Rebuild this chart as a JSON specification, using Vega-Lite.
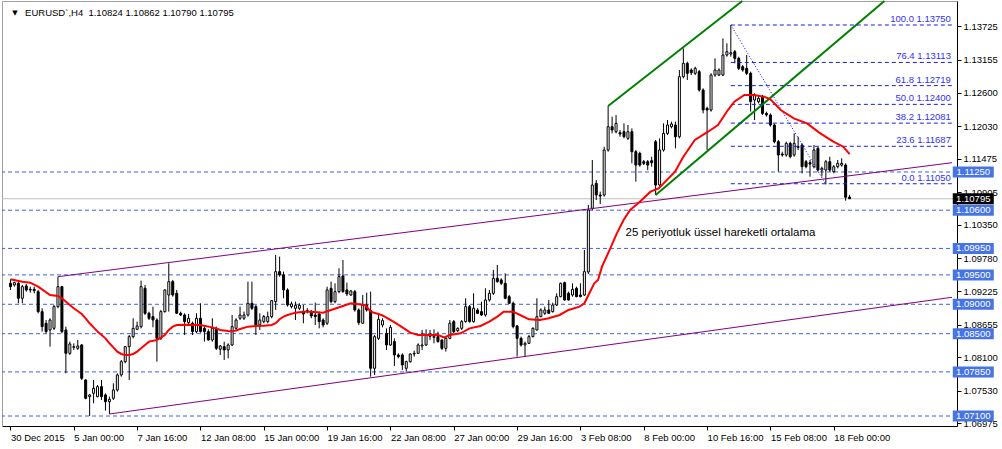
{
"$schema":"https://vega.github.io/schema/vega-lite/v6.json",
"width":955,"height":425,"autosize":"none",
"padding":{"left":2,"top":1,"right":45,"bottom":23},
"background":"white",
"view":{"stroke":null},
"config":{"font":"Liberation Sans"},
"datasets":{
"hl":[{"p":1.1125},{"p":1.106},{"p":1.0995},{"p":1.095},{"p":1.09},{"p":1.085},{"p":1.0785},{"p":1.071}],
"box":[{"p":1.1125,"t":"1.11250"},{"p":1.106,"t":"1.10600"},{"p":1.0995,"t":"1.09950"},{"p":1.095,"t":"1.09500"},{"p":1.09,"t":"1.09000"},{"p":1.085,"t":"1.08500"},{"p":1.0785,"t":"1.07850"},{"p":1.071,"t":"1.07100"}],
"fib":[{"p":1.1375,"t":"100.0 1.13750"},{"p":1.13113,"t":"76.4 1.13113"},{"p":1.12719,"t":"61.8 1.12719"},{"p":1.124,"t":"50.0 1.12400"},{"p":1.12081,"t":"38.2 1.12081"},{"p":1.11687,"t":"23.6 1.11687"},{"p":1.1105,"t":"0.0 1.11050"}],
"purple":[{"g":"a","i":12,"p":1.0947},{"g":"a","i":237.875,"p":1.11408},{"g":"b","i":25,"p":1.07134},{"g":"b","i":237.875,"p":1.09119}],
"green":[{"g":"a","i":151,"p":1.12372},{"g":"a","i":184.9,"p":1.14158},{"g":"b","i":163,"p":1.10858},{"g":"b","i":220.8,"p":1.14158}],
"dot":[{"i":182,"p":1.1375},{"i":206,"p":1.1104}],
"ema":[{"i":0,"p":1.09425},{"i":3,"p":1.09385},{"i":5,"p":1.09368},{"i":7,"p":1.093},{"i":10,"p":1.09158},{"i":12,"p":1.09141},{"i":13,"p":1.09102},{"i":15,"p":1.08988},{"i":16,"p":1.08932},{"i":18,"p":1.08835},{"i":19,"p":1.08762},{"i":20,"p":1.08677},{"i":21,"p":1.08608},{"i":22,"p":1.08535},{"i":24,"p":1.08421},{"i":25,"p":1.08336},{"i":26,"p":1.08268},{"i":27,"p":1.08195},{"i":28,"p":1.08155},{"i":29,"p":1.08138},{"i":30,"p":1.08138},{"i":31,"p":1.08155},{"i":32,"p":1.08195},{"i":33,"p":1.08251},{"i":34,"p":1.08308},{"i":35,"p":1.08365},{"i":37,"p":1.08393},{"i":38,"p":1.08433},{"i":39,"p":1.08478},{"i":40,"p":1.08563},{"i":41,"p":1.0862},{"i":42,"p":1.08648},{"i":45,"p":1.08654},{"i":48,"p":1.08648},{"i":50,"p":1.0862},{"i":52,"p":1.08591},{"i":53,"p":1.08563},{"i":55,"p":1.08546},{"i":56,"p":1.0854},{"i":57,"p":1.08552},{"i":58,"p":1.0858},{"i":60,"p":1.0862},{"i":62,"p":1.08631},{"i":64,"p":1.08637},{"i":66,"p":1.08648},{"i":67,"p":1.08677},{"i":68,"p":1.08745},{"i":69,"p":1.0879},{"i":70,"p":1.08818},{"i":72,"p":1.08858},{"i":74,"p":1.08875},{"i":76,"p":1.08875},{"i":79,"p":1.08858},{"i":81,"p":1.08903},{"i":84,"p":1.08971},{"i":86,"p":1.09017},{"i":87.5,"p":1.09005},{"i":89.6,"p":1.08988},{"i":91,"p":1.08875},{"i":93.75,"p":1.08818},{"i":96,"p":1.08733},{"i":98.75,"p":1.0862},{"i":101,"p":1.08518},{"i":103,"p":1.08478},{"i":105,"p":1.08478},{"i":108,"p":1.08478},{"i":109.6,"p":1.08438},{"i":111,"p":1.08478},{"i":113.75,"p":1.08506},{"i":116,"p":1.08591},{"i":118.75,"p":1.08631},{"i":121,"p":1.08705},{"i":123,"p":1.0879},{"i":124.6,"p":1.08875},{"i":127,"p":1.08875},{"i":128.75,"p":1.08818},{"i":131,"p":1.08745},{"i":133.75,"p":1.08733},{"i":136,"p":1.08762},{"i":138.75,"p":1.08818},{"i":141,"p":1.08903},{"i":143.75,"p":1.0896},{"i":145,"p":1.09017},{"i":146.25,"p":1.09187},{"i":147.5,"p":1.09357},{"i":148.45,"p":1.09413},{"i":149.45,"p":1.09639},{"i":151.55,"p":1.09952},{"i":153.2,"p":1.10207},{"i":154.9,"p":1.10434},{"i":156.55,"p":1.10604},{"i":158.6,"p":1.10718},{"i":161.7,"p":1.10915},{"i":163.75,"p":1.10972},{"i":167.9,"p":1.11255},{"i":170,"p":1.1151},{"i":172.9,"p":1.11794},{"i":176.25,"p":1.11935},{"i":178.75,"p":1.12049},{"i":181.25,"p":1.12304},{"i":182.9,"p":1.12446},{"i":185.4,"p":1.12559},{"i":187.9,"p":1.12559},{"i":190.4,"p":1.12531},{"i":192,"p":1.12485},{"i":194.6,"p":1.12304},{"i":197.9,"p":1.12162},{"i":201.25,"p":1.12077},{"i":204.6,"p":1.11907},{"i":207.9,"p":1.11765},{"i":210.4,"p":1.1168},{"i":212,"p":1.11555}],
"ohlc":[
{"i":0,"o":1.09357,"h":1.09425,"l":1.09244,"c":1.093},
{"i":1,"o":1.09329,"h":1.09385,"l":1.093,"c":1.09368},
{"i":2,"o":1.09357,"h":1.09385,"l":1.09017,"c":1.09102},
{"i":3,"o":1.09102,"h":1.09329,"l":1.09017,"c":1.093},
{"i":4,"o":1.09312,"h":1.09346,"l":1.09215,"c":1.09244},
{"i":5,"o":1.09255,"h":1.093,"l":1.09198,"c":1.09244},
{"i":6,"o":1.09255,"h":1.093,"l":1.09187,"c":1.09232},
{"i":7,"o":1.09215,"h":1.09244,"l":1.08847,"c":1.08875},
{"i":8,"o":1.08875,"h":1.08932,"l":1.08535,"c":1.0862},
{"i":9,"o":1.08677,"h":1.08733,"l":1.08506,"c":1.08535},
{"i":10,"o":1.08563,"h":1.08762,"l":1.0828,"c":1.08733},
{"i":11,"o":1.08591,"h":1.08988,"l":1.08563,"c":1.0896},
{"i":12,"o":1.0896,"h":1.0947,"l":1.08932,"c":1.093},
{"i":13,"o":1.093,"h":1.09312,"l":1.08506,"c":1.08535},
{"i":14,"o":1.08563,"h":1.0862,"l":1.07826,"c":1.08166},
{"i":15,"o":1.08166,"h":1.08365,"l":1.08138,"c":1.08325},
{"i":16,"o":1.08268,"h":1.08336,"l":1.08223,"c":1.0828},
{"i":17,"o":1.08251,"h":1.08393,"l":1.08223,"c":1.08291},
{"i":18,"o":1.08308,"h":1.08325,"l":1.07713,"c":1.07741},
{"i":19,"o":1.07713,"h":1.07724,"l":1.07384,"c":1.07401},
{"i":20,"o":1.07429,"h":1.07475,"l":1.071,"c":1.07458},
{"i":21,"o":1.07486,"h":1.07713,"l":1.07316,"c":1.07571},
{"i":22,"o":1.07429,"h":1.07628,"l":1.07418,"c":1.07599},
{"i":23,"o":1.07599,"h":1.07713,"l":1.07373,"c":1.07429},
{"i":24,"o":1.07458,"h":1.07486,"l":1.07191,"c":1.07344},
{"i":25,"o":1.07344,"h":1.07429,"l":1.07134,"c":1.07384},
{"i":26,"o":1.07401,"h":1.07656,"l":1.07373,"c":1.07543},
{"i":27,"o":1.07543,"h":1.07826,"l":1.07514,"c":1.07798},
{"i":28,"o":1.07798,"h":1.08053,"l":1.07769,"c":1.08024},
{"i":29,"o":1.08024,"h":1.08291,"l":1.07996,"c":1.0828},
{"i":30,"o":1.0828,"h":1.08478,"l":1.07713,"c":1.0845},
{"i":31,"o":1.0845,"h":1.08762,"l":1.08421,"c":1.08591},
{"i":32,"o":1.08574,"h":1.08705,"l":1.08563,"c":1.08631},
{"i":33,"o":1.0862,"h":1.09402,"l":1.08591,"c":1.093},
{"i":34,"o":1.09272,"h":1.09329,"l":1.08818,"c":1.08847},
{"i":35,"o":1.08847,"h":1.08875,"l":1.08733,"c":1.08762},
{"i":36,"o":1.0879,"h":1.0896,"l":1.08608,"c":1.08733},
{"i":37,"o":1.08733,"h":1.08762,"l":1.08024,"c":1.08421},
{"i":38,"o":1.08421,"h":1.08903,"l":1.08393,"c":1.08875},
{"i":39,"o":1.08875,"h":1.09255,"l":1.08858,"c":1.09244},
{"i":40,"o":1.09158,"h":1.09697,"l":1.08875,"c":1.09385},
{"i":41,"o":1.09385,"h":1.09414,"l":1.0913,"c":1.09158},
{"i":42,"o":1.09187,"h":1.09244,"l":1.08835,"c":1.08847},
{"i":43,"o":1.08847,"h":1.08875,"l":1.08801,"c":1.08818},
{"i":44,"o":1.08818,"h":1.08847,"l":1.08478,"c":1.08705},
{"i":45,"o":1.08688,"h":1.08835,"l":1.08665,"c":1.08762},
{"i":46,"o":1.08677,"h":1.08705,"l":1.08478,"c":1.08535},
{"i":47,"o":1.08535,"h":1.08847,"l":1.08506,"c":1.08762},
{"i":48,"o":1.08762,"h":1.09017,"l":1.08518,"c":1.08535},
{"i":49,"o":1.08591,"h":1.08631,"l":1.08365,"c":1.08535},
{"i":50,"o":1.08535,"h":1.08574,"l":1.08382,"c":1.08393},
{"i":51,"o":1.08393,"h":1.08762,"l":1.08365,"c":1.08591},
{"i":52,"o":1.08591,"h":1.0862,"l":1.08223,"c":1.08251},
{"i":53,"o":1.08234,"h":1.08308,"l":1.08138,"c":1.08291},
{"i":54,"o":1.0828,"h":1.08365,"l":1.08053,"c":1.08223},
{"i":55,"o":1.08223,"h":1.08336,"l":1.08081,"c":1.08308},
{"i":56,"o":1.08308,"h":1.08818,"l":1.08291,"c":1.0862},
{"i":57,"o":1.08591,"h":1.08762,"l":1.08563,"c":1.08733},
{"i":58,"o":1.08762,"h":1.0896,"l":1.08733,"c":1.08818},
{"i":59,"o":1.08762,"h":1.08875,"l":1.08733,"c":1.08818},
{"i":60,"o":1.08818,"h":1.09385,"l":1.0879,"c":1.09017},
{"i":61,"o":1.09017,"h":1.09385,"l":1.08903,"c":1.08932},
{"i":62,"o":1.0896,"h":1.08988,"l":1.08478,"c":1.08648},
{"i":63,"o":1.08648,"h":1.08847,"l":1.08563,"c":1.08733},
{"i":64,"o":1.08705,"h":1.08818,"l":1.08677,"c":1.0879},
{"i":65,"o":1.08705,"h":1.08875,"l":1.08677,"c":1.0879},
{"i":66,"o":1.0879,"h":1.09073,"l":1.08762,"c":1.09062},
{"i":67,"o":1.09045,"h":1.09839,"l":1.08903,"c":1.09555},
{"i":68,"o":1.09555,"h":1.0981,"l":1.0947,"c":1.09499},
{"i":69,"o":1.09499,"h":1.09555,"l":1.09102,"c":1.09244},
{"i":70,"o":1.09244,"h":1.09272,"l":1.0896,"c":1.08988},
{"i":71,"o":1.0896,"h":1.09045,"l":1.08932,"c":1.09006},
{"i":72,"o":1.08932,"h":1.09045,"l":1.08733,"c":1.08983},
{"i":73,"o":1.08932,"h":1.09017,"l":1.08903,"c":1.08983},
{"i":74,"o":1.08875,"h":1.08988,"l":1.08677,"c":1.08835},
{"i":75,"o":1.08892,"h":1.08932,"l":1.08847,"c":1.08875},
{"i":76,"o":1.08875,"h":1.08903,"l":1.08762,"c":1.08801},
{"i":77,"o":1.08818,"h":1.09028,"l":1.08648,"c":1.0879},
{"i":78,"o":1.08835,"h":1.08875,"l":1.08591,"c":1.08705},
{"i":79,"o":1.08733,"h":1.08762,"l":1.08608,"c":1.08648},
{"i":80,"o":1.08677,"h":1.093,"l":1.08648,"c":1.09244},
{"i":81,"o":1.09272,"h":1.09385,"l":1.09017,"c":1.09045},
{"i":82,"o":1.09045,"h":1.09357,"l":1.09017,"c":1.09215},
{"i":83,"o":1.09215,"h":1.09612,"l":1.09187,"c":1.0947},
{"i":84,"o":1.09482,"h":1.09754,"l":1.09198,"c":1.09215},
{"i":85,"o":1.09244,"h":1.09368,"l":1.09141,"c":1.09176},
{"i":86,"o":1.09158,"h":1.09244,"l":1.09141,"c":1.09227},
{"i":87,"o":1.09215,"h":1.09244,"l":1.08875,"c":1.08903},
{"i":88,"o":1.08903,"h":1.08932,"l":1.08648,"c":1.08688},
{"i":89,"o":1.08677,"h":1.09158,"l":1.08665,"c":1.08988},
{"i":90,"o":1.08988,"h":1.09198,"l":1.08875,"c":1.08903},
{"i":91,"o":1.08892,"h":1.09215,"l":1.07769,"c":1.07911},
{"i":92,"o":1.07911,"h":1.08478,"l":1.07798,"c":1.0845},
{"i":93,"o":1.08421,"h":1.08818,"l":1.08393,"c":1.08745},
{"i":94,"o":1.08648,"h":1.08762,"l":1.08608,"c":1.08722},
{"i":95,"o":1.08506,"h":1.08591,"l":1.08223,"c":1.08308},
{"i":96,"o":1.08308,"h":1.08648,"l":1.08291,"c":1.08608},
{"i":97,"o":1.08365,"h":1.08421,"l":1.07951,"c":1.08138},
{"i":98,"o":1.08138,"h":1.08166,"l":1.08081,"c":1.0811},
{"i":99,"o":1.08138,"h":1.08166,"l":1.07883,"c":1.07968},
{"i":100,"o":1.07911,"h":1.08042,"l":1.07854,"c":1.08024},
{"i":101,"o":1.08024,"h":1.08166,"l":1.08007,"c":1.08155},
{"i":102,"o":1.08155,"h":1.08212,"l":1.0811,"c":1.08166},
{"i":103,"o":1.08166,"h":1.08336,"l":1.08155,"c":1.08308},
{"i":104,"o":1.08291,"h":1.08563,"l":1.08223,"c":1.08308},
{"i":105,"o":1.08308,"h":1.08574,"l":1.08291,"c":1.08478},
{"i":106,"o":1.0845,"h":1.08563,"l":1.08393,"c":1.08455},
{"i":107,"o":1.08438,"h":1.08574,"l":1.08336,"c":1.08455},
{"i":108,"o":1.0845,"h":1.08535,"l":1.08348,"c":1.08365},
{"i":109,"o":1.08393,"h":1.08404,"l":1.08223,"c":1.08251},
{"i":110,"o":1.08251,"h":1.0845,"l":1.08195,"c":1.08421},
{"i":111,"o":1.08421,"h":1.08733,"l":1.08404,"c":1.08677},
{"i":112,"o":1.08705,"h":1.08733,"l":1.08506,"c":1.08535},
{"i":113,"o":1.08552,"h":1.08608,"l":1.08529,"c":1.08591},
{"i":114,"o":1.08591,"h":1.08733,"l":1.08563,"c":1.08705},
{"i":115,"o":1.08705,"h":1.09102,"l":1.08688,"c":1.0896},
{"i":116,"o":1.0896,"h":1.08988,"l":1.08688,"c":1.08705},
{"i":117,"o":1.08705,"h":1.09187,"l":1.08688,"c":1.08932},
{"i":118,"o":1.08903,"h":1.08932,"l":1.08835,"c":1.08847},
{"i":119,"o":1.08875,"h":1.09045,"l":1.08801,"c":1.08818},
{"i":120,"o":1.08818,"h":1.09272,"l":1.0879,"c":1.09073},
{"i":121,"o":1.09073,"h":1.09244,"l":1.09045,"c":1.09187},
{"i":122,"o":1.09187,"h":1.09584,"l":1.09158,"c":1.09442},
{"i":123,"o":1.09442,"h":1.09669,"l":1.09368,"c":1.09385},
{"i":124,"o":1.09414,"h":1.09442,"l":1.09329,"c":1.09357},
{"i":125,"o":1.09357,"h":1.09527,"l":1.09085,"c":1.09102},
{"i":126,"o":1.0913,"h":1.09158,"l":1.09006,"c":1.09017},
{"i":127,"o":1.09017,"h":1.09045,"l":1.08591,"c":1.0862},
{"i":128,"o":1.08631,"h":1.08648,"l":1.0811,"c":1.08421},
{"i":129,"o":1.08421,"h":1.0845,"l":1.0828,"c":1.08308},
{"i":130,"o":1.08308,"h":1.08365,"l":1.0811,"c":1.08336},
{"i":131,"o":1.08336,"h":1.08478,"l":1.08325,"c":1.0845},
{"i":132,"o":1.0845,"h":1.08608,"l":1.08438,"c":1.08591},
{"i":133,"o":1.08563,"h":1.09102,"l":1.08552,"c":1.0879},
{"i":134,"o":1.0879,"h":1.08932,"l":1.08779,"c":1.08903},
{"i":135,"o":1.08847,"h":1.0896,"l":1.08818,"c":1.08903},
{"i":136,"o":1.08903,"h":1.09073,"l":1.08835,"c":1.08847},
{"i":137,"o":1.08875,"h":1.09028,"l":1.08858,"c":1.08988},
{"i":138,"o":1.08988,"h":1.09187,"l":1.08971,"c":1.0913},
{"i":139,"o":1.0913,"h":1.09368,"l":1.09119,"c":1.09357},
{"i":140,"o":1.09368,"h":1.09385,"l":1.09062,"c":1.09073},
{"i":141,"o":1.09187,"h":1.09215,"l":1.09062,"c":1.09073},
{"i":142,"o":1.09158,"h":1.09357,"l":1.0913,"c":1.09255},
{"i":143,"o":1.09272,"h":1.093,"l":1.09119,"c":1.0913},
{"i":144,"o":1.09158,"h":1.09357,"l":1.09119,"c":1.0913},
{"i":145,"o":1.09158,"h":1.09923,"l":1.09141,"c":1.09555},
{"i":146,"o":1.0955,"h":1.10689,"l":1.09515,"c":1.10604},
{"i":147,"o":1.10633,"h":1.11454,"l":1.106,"c":1.11029},
{"i":148,"o":1.11057,"h":1.11113,"l":1.10773,"c":1.10858},
{"i":149,"o":1.10858,"h":1.10915,"l":1.10705,"c":1.10841},
{"i":150,"o":1.10858,"h":1.1168,"l":1.1083,"c":1.11624},
{"i":151,"o":1.11624,"h":1.12372,"l":1.11595,"c":1.1202},
{"i":152,"o":1.1202,"h":1.12191,"l":1.11907,"c":1.11964},
{"i":153,"o":1.11935,"h":1.12219,"l":1.11907,"c":1.12077},
{"i":154,"o":1.11918,"h":1.11964,"l":1.1185,"c":1.11896},
{"i":155,"o":1.11935,"h":1.12077,"l":1.11822,"c":1.1185},
{"i":156,"o":1.11822,"h":1.12049,"l":1.11794,"c":1.11935},
{"i":157,"o":1.11935,"h":1.11992,"l":1.11397,"c":1.11595},
{"i":158,"o":1.11595,"h":1.11624,"l":1.11085,"c":1.11368},
{"i":159,"o":1.11567,"h":1.11595,"l":1.1134,"c":1.11368},
{"i":160,"o":1.11425,"h":1.11454,"l":1.11368,"c":1.11397},
{"i":161,"o":1.11425,"h":1.11454,"l":1.11283,"c":1.11368},
{"i":162,"o":1.11442,"h":1.1151,"l":1.1134,"c":1.11408},
{"i":163,"o":1.11765,"h":1.11794,"l":1.10858,"c":1.11028},
{"i":164,"o":1.11028,"h":1.11822,"l":1.10972,"c":1.11624},
{"i":165,"o":1.11624,"h":1.12077,"l":1.11595,"c":1.11907},
{"i":166,"o":1.11907,"h":1.12134,"l":1.11879,"c":1.12049},
{"i":167,"o":1.1202,"h":1.12106,"l":1.11992,"c":1.12066},
{"i":168,"o":1.12049,"h":1.12106,"l":1.11652,"c":1.1185},
{"i":169,"o":1.1185,"h":1.12984,"l":1.11822,"c":1.12871},
{"i":170,"o":1.12871,"h":1.13353,"l":1.12843,"c":1.13098},
{"i":171,"o":1.13098,"h":1.13126,"l":1.12814,"c":1.12928},
{"i":172,"o":1.12984,"h":1.13013,"l":1.12899,"c":1.12939},
{"i":173,"o":1.12928,"h":1.13041,"l":1.12899,"c":1.13013},
{"i":174,"o":1.12956,"h":1.12984,"l":1.12616,"c":1.12644},
{"i":175,"o":1.12644,"h":1.12673,"l":1.12247,"c":1.12304},
{"i":176,"o":1.12332,"h":1.12361,"l":1.11624,"c":1.12304},
{"i":177,"o":1.12304,"h":1.12928,"l":1.12276,"c":1.12899},
{"i":178,"o":1.12899,"h":1.13183,"l":1.12871,"c":1.12984},
{"i":179,"o":1.12899,"h":1.13013,"l":1.12882,"c":1.12984},
{"i":180,"o":1.12899,"h":1.13523,"l":1.12882,"c":1.13239},
{"i":181,"o":1.13239,"h":1.13438,"l":1.13211,"c":1.13296},
{"i":182,"o":1.13256,"h":1.1375,"l":1.13211,"c":1.13279},
{"i":183,"o":1.13296,"h":1.13325,"l":1.13098,"c":1.13183},
{"i":184,"o":1.13183,"h":1.13211,"l":1.12984,"c":1.13013},
{"i":185,"o":1.13041,"h":1.13069,"l":1.12956,"c":1.12984},
{"i":186,"o":1.13013,"h":1.13239,"l":1.12899,"c":1.12928},
{"i":187,"o":1.12928,"h":1.12956,"l":1.12276,"c":1.12446},
{"i":188,"o":1.12474,"h":1.12587,"l":1.12134,"c":1.12559},
{"i":189,"o":1.12446,"h":1.12559,"l":1.12417,"c":1.12502},
{"i":190,"o":1.12519,"h":1.12559,"l":1.12219,"c":1.12247},
{"i":191,"o":1.12247,"h":1.12276,"l":1.12191,"c":1.12219},
{"i":192,"o":1.12219,"h":1.12247,"l":1.1202,"c":1.12049},
{"i":193,"o":1.12049,"h":1.12077,"l":1.11737,"c":1.11765},
{"i":194,"o":1.11765,"h":1.11794,"l":1.11255,"c":1.11539},
{"i":195,"o":1.11555,"h":1.11595,"l":1.1151,"c":1.11539},
{"i":196,"o":1.11539,"h":1.11765,"l":1.1151,"c":1.11737},
{"i":197,"o":1.11737,"h":1.11765,"l":1.11482,"c":1.1151},
{"i":198,"o":1.11539,"h":1.11907,"l":1.1151,"c":1.11737},
{"i":199,"o":1.1168,"h":1.1185,"l":1.11624,"c":1.11669},
{"i":200,"o":1.11709,"h":1.11737,"l":1.11227,"c":1.1134},
{"i":201,"o":1.11425,"h":1.11454,"l":1.11312,"c":1.1134},
{"i":202,"o":1.11408,"h":1.11454,"l":1.1117,"c":1.11385},
{"i":203,"o":1.1134,"h":1.11709,"l":1.11312,"c":1.11624},
{"i":204,"o":1.11652,"h":1.1168,"l":1.11255,"c":1.11283},
{"i":205,"o":1.11283,"h":1.1134,"l":1.1117,"c":1.11312},
{"i":206,"o":1.11283,"h":1.11454,"l":1.1104,"c":1.11425},
{"i":207,"o":1.11425,"h":1.1151,"l":1.11255,"c":1.11283},
{"i":208,"o":1.11255,"h":1.11368,"l":1.11227,"c":1.1134},
{"i":209,"o":1.1134,"h":1.11454,"l":1.11312,"c":1.11397},
{"i":210,"o":1.11368,"h":1.11482,"l":1.1134,"c":1.11397},
{"i":211,"o":1.11368,"h":1.11397,"l":1.10762,"c":1.1082},
{"i":212,"o":1.10824,"h":1.10862,"l":1.1079,"c":1.10795}
]},
"layer":[
{"data":{"name":"hl"},"mark":{"type":"rule","color":"#3a62e4","strokeDash":[4,3],"strokeWidth":1},
 "encoding":{"y":{"field":"p","type":"quantitative","scale":{"domain":[1.0693,1.14158],"nice":false,"zero":false},"axis":null}}},
{"data":{"values":[{}]},"mark":{"type":"rule","color":"#c0c0c0","strokeWidth":1},
 "encoding":{"y":{"datum":1.10795,"type":"quantitative","scale":{"domain":[1.0693,1.14158],"nice":false,"zero":false},"axis":null}}},
{"data":{"name":"ohlc"},"mark":{"type":"rule","color":"black","strokeWidth":1},
 "encoding":{
  "x":{"field":"i","type":"quantitative","scale":{"domain":[-0.875,237.875],"nice":false,"zero":false},
   "axis":{"orient":"bottom","values":[0,16,32,48,64,80,96,112,128,144,160,176,192,208],"labelExpr":"['30 Dec 2015','5 Jan 00:00','7 Jan 16:00','12 Jan 08:00','15 Jan 00:00','19 Jan 16:00','22 Jan 08:00','27 Jan 00:00','29 Jan 16:00','3 Feb 08:00','8 Feb 00:00','10 Feb 16:00','15 Feb 08:00','18 Feb 00:00'][round(datum.value/16)]","title":null,"grid":false,"domainColor":"black","domainWidth":1,"tickColor":"black","tickSize":4,"tickWidth":1,"labelColor":"black","labelFont":"Liberation Sans","labelFontSize":9.5,"labelAlign":"left","labelBaseline":"top","labelPadding":2,"labelOverlap":false,"labelFlush":false,"labelBound":false}},
  "y":{"field":"l","type":"quantitative","scale":{"domain":[1.0693,1.14158],"nice":false,"zero":false},
   "axis":{"orient":"right","values":[1.13725,1.13155,1.126,1.1203,1.11475,1.10905,1.1035,1.0978,1.09225,1.08655,1.081,1.0753,1.06975],"format":".5f","title":null,"grid":false,"domainColor":"black","domainWidth":1,"tickColor":"black","tickSize":4,"tickWidth":1,"labelColor":"black","labelFont":"Liberation Sans","labelFontSize":9.5,"labelPadding":2,"labelAlign":"left","labelBaseline":"middle","labelOverlap":false,"labelFlush":false,"labelBound":false}},
  "y2":{"field":"h"}}},
{"data":{"name":"ohlc"},"mark":{"type":"bar","size":2,"stroke":"black","strokeWidth":1},
 "encoding":{
  "x":{"field":"i","type":"quantitative","scale":{"domain":[-0.875,237.875],"nice":false,"zero":false},"axis":null},
  "y":{"field":"o","type":"quantitative","scale":{"domain":[1.0693,1.14158],"nice":false,"zero":false},"axis":null},
  "y2":{"field":"c"},
  "fill":{"condition":{"test":"datum.c>=datum.o","value":"white"},"value":"black"}}},
{"data":{"name":"purple"},"mark":{"type":"line","color":"#800080","strokeWidth":1},
 "encoding":{
  "x":{"field":"i","type":"quantitative","scale":{"domain":[-0.875,237.875],"nice":false,"zero":false},"axis":null},
  "y":{"field":"p","type":"quantitative","scale":{"domain":[1.0693,1.14158],"nice":false,"zero":false},"axis":null},
  "detail":{"field":"g"}}},
{"data":{"name":"green"},"mark":{"type":"line","color":"#008000","strokeWidth":2},
 "encoding":{
  "x":{"field":"i","type":"quantitative","scale":{"domain":[-0.875,237.875],"nice":false,"zero":false},"axis":null},
  "y":{"field":"p","type":"quantitative","scale":{"domain":[1.0693,1.14158],"nice":false,"zero":false},"axis":null},
  "detail":{"field":"g"}}},
{"data":{"name":"fib"},"mark":{"type":"rule","color":"#1c1ce8","strokeDash":[4,3],"strokeWidth":1},
 "encoding":{
  "x":{"datum":182,"type":"quantitative","scale":{"domain":[-0.875,237.875],"nice":false,"zero":false},"axis":null},
  "x2":{"datum":237.875},
  "y":{"field":"p","type":"quantitative","scale":{"domain":[1.0693,1.14158],"nice":false,"zero":false},"axis":null}}},
{"data":{"name":"fib"},"mark":{"type":"text","color":"#3030ff","font":"Liberation Sans","fontSize":9.5,"align":"right","baseline":"middle","dy":-6},
 "encoding":{
  "x":{"datum":237.6,"type":"quantitative","scale":{"domain":[-0.875,237.875],"nice":false,"zero":false},"axis":null},
  "y":{"field":"p","type":"quantitative","scale":{"domain":[1.0693,1.14158],"nice":false,"zero":false},"axis":null},
  "text":{"field":"t"}}},
{"data":{"name":"dot"},"mark":{"type":"line","color":"#0000ff","strokeWidth":1,"strokeDash":[1,2]},
 "encoding":{
  "x":{"field":"i","type":"quantitative","scale":{"domain":[-0.875,237.875],"nice":false,"zero":false},
   "axis":{"orient":"top","labels":false,"ticks":false,"grid":false,"title":null,"domainColor":"#a0a0a0"}},
  "y":{"field":"p","type":"quantitative","scale":{"domain":[1.0693,1.14158],"nice":false,"zero":false},
   "axis":{"orient":"left","labels":false,"ticks":false,"grid":false,"title":null,"domainColor":"#a0a0a0"}}}},
{"data":{"name":"ema"},"mark":{"type":"line","color":"#ff0000","strokeWidth":2},
 "encoding":{
  "x":{"field":"i","type":"quantitative","scale":{"domain":[-0.875,237.875],"nice":false,"zero":false},"axis":null},
  "y":{"field":"p","type":"quantitative","scale":{"domain":[1.0693,1.14158],"nice":false,"zero":false},"axis":null}}},
{"data":{"values":[{"t":"25 periyotluk üssel hareketli ortalama"}]},"mark":{"type":"text","color":"black","font":"Liberation Sans","fontSize":11.5,"align":"left","baseline":"middle"},
 "encoding":{
  "x":{"datum":155.4,"type":"quantitative","scale":{"domain":[-0.875,237.875],"nice":false,"zero":false},"axis":null},
  "y":{"datum":1.10212,"type":"quantitative","scale":{"domain":[1.0693,1.14158],"nice":false,"zero":false},"axis":null},
  "text":{"field":"t"}}},
{"data":{"name":"box"},"mark":{"type":"tick","orient":"horizontal","size":41,"thickness":11,"color":"#4674e4","opacity":1},
 "encoding":{
  "x":{"datum":243.25,"type":"quantitative","scale":{"domain":[-0.875,237.875],"nice":false,"zero":false},"axis":null},
  "y":{"field":"p","type":"quantitative","scale":{"domain":[1.0693,1.14158],"nice":false,"zero":false},"axis":null}}},
{"data":{"name":"box"},"mark":{"type":"text","color":"white","font":"Liberation Sans","fontSize":9.5,"align":"center","baseline":"middle"},
 "encoding":{
  "x":{"datum":243.25,"type":"quantitative","scale":{"domain":[-0.875,237.875],"nice":false,"zero":false},"axis":null},
  "y":{"field":"p","type":"quantitative","scale":{"domain":[1.0693,1.14158],"nice":false,"zero":false},"axis":null},
  "text":{"field":"t"}}},
{"data":{"values":[{"p":1.10795,"t":"1.10795"}]},"mark":{"type":"tick","orient":"horizontal","size":41,"thickness":11,"color":"black","opacity":1},
 "encoding":{
  "x":{"datum":243.25,"type":"quantitative","scale":{"domain":[-0.875,237.875],"nice":false,"zero":false},"axis":null},
  "y":{"field":"p","type":"quantitative","scale":{"domain":[1.0693,1.14158],"nice":false,"zero":false},"axis":null}}},
{"data":{"values":[{"p":1.10795,"t":"1.10795"}]},"mark":{"type":"text","color":"white","font":"Liberation Sans","fontSize":9.5,"align":"center","baseline":"middle"},
 "encoding":{
  "x":{"datum":243.25,"type":"quantitative","scale":{"domain":[-0.875,237.875],"nice":false,"zero":false},"axis":null},
  "y":{"field":"p","type":"quantitative","scale":{"domain":[1.0693,1.14158],"nice":false,"zero":false},"axis":null},
  "text":{"field":"t"}}},
{"data":{"values":[{"t":"▼"}]},"mark":{"type":"text","color":"black","font":"DejaVu Sans","fontSize":7,"align":"center","baseline":"middle"},
 "encoding":{
  "x":{"datum":1.1,"type":"quantitative","scale":{"domain":[-0.875,237.875],"nice":false,"zero":false},"axis":null},
  "y":{"datum":1.13954,"type":"quantitative","scale":{"domain":[1.0693,1.14158],"nice":false,"zero":false},"axis":null},
  "text":{"field":"t"}}},
{"data":{"values":[{"t":"EURUSD`,H4 \u00a01.10824 1.10862 1.10790 1.10795"}]},"mark":{"type":"text","color":"black","font":"Liberation Sans","fontSize":9.5,"align":"left","baseline":"middle"},
 "encoding":{
  "x":{"datum":3.7,"type":"quantitative","scale":{"domain":[-0.875,237.875],"nice":false,"zero":false},"axis":null},
  "y":{"datum":1.13954,"type":"quantitative","scale":{"domain":[1.0693,1.14158],"nice":false,"zero":false},"axis":null},
  "text":{"field":"t"}}}
]
}
